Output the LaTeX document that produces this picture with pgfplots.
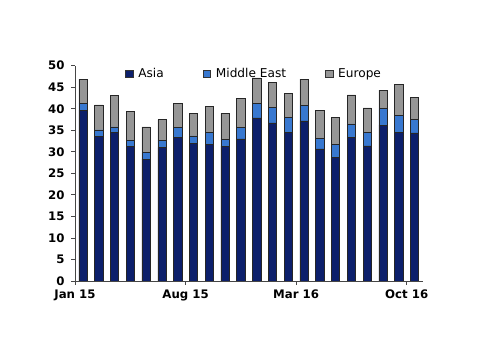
\documentclass[border=0pt]{standalone}
\usepackage{pgfplots}
\pgfplotsset{compat=1.18}
\usepackage{pgfplotstable}
\usepackage{fontspec}
\setmainfont{DejaVu Sans}
\definecolor{asia}{RGB}{12,31,107}
\definecolor{mideast}{RGB}{56,120,208}
\definecolor{europe}{RGB}{150,150,150}
\definecolor{axisgray}{RGB}{70,70,70}
\pgfplotstableread{
x asia me eur
0 39.7 1.6 5.6
1 33.6 1.5 5.8
2 34.6 1.2 7.3
3 31.2 1.5 6.7
4 28.3 1.6 5.9
5 31.0 1.7 4.8
6 33.4 2.2 5.6
7 32.0 1.7 5.2
8 31.7 2.8 6.1
9 31.3 1.6 6.0
10 33.0 2.7 6.7
11 37.9 3.4 5.9
12 36.7 3.7 5.7
13 34.6 3.4 5.6
14 37.2 3.5 6.2
15 30.7 2.4 6.6
16 28.7 3.0 6.3
17 33.4 3.1 6.7
18 31.4 3.1 5.7
19 36.2 3.9 4.2
20 34.6 3.9 7.2
21 34.4 3.1 5.2
}\datatable
\begin{document}
\begin{tikzpicture}
\path[use as bounding box, fill=white] (0,0) rectangle (500bp,354bp);
\begin{axis}[
  at={(75bp,73bp)}, anchor=south west,
  scale only axis, width=347.5bp, height=215.3bp,
  ybar stacked, bar width=0.52,
  xmin=-0.5, xmax=21.5, ymin=0, ymax=50,
  ytick={0,5,...,50},
  xtick={-0.5,6.5,13.5,20.5},
  xticklabels={Jan 15,Aug 15,Mar 16,Oct 16},
  axis x line*=bottom, axis y line*=left,
  axis line style={axisgray, line width=0.8pt, -},
  tick style={axisgray, line width=0.8pt},
  tick align=outside, major tick length=4bp,
  ticklabel style={font=\fontsize{11.8}{12}\selectfont\bfseries},
  /pgf/number format/assume math mode=true,
  yticklabel style={xshift=-3bp},
  xticklabel style={yshift=-1bp},
  legend columns=3,
  legend style={draw=none, fill=none, at={(0.144,0.963)}, anchor=west,
    font=\fontsize{12.2}{13}\selectfont, inner sep=0pt,
    /tikz/every odd column/.append style={column sep=3bp},
    /tikz/every even column/.append style={column sep=37bp}},
  legend image code/.code={\draw[#1, draw=black!80, line width=0.5pt] (0bp,-3.8bp) rectangle (7.6bp,3.8bp);},
  every axis plot/.append style={draw=black!85, line width=0.5pt},
]
\addplot[fill=asia] table[x=x, y=asia] {\datatable};
\addplot[fill=mideast] table[x=x, y=me] {\datatable};
\addplot[fill=europe] table[x=x, y=eur] {\datatable};
\legend{Asia, Middle East, Europe}
\end{axis}
\end{tikzpicture}
\end{document}
